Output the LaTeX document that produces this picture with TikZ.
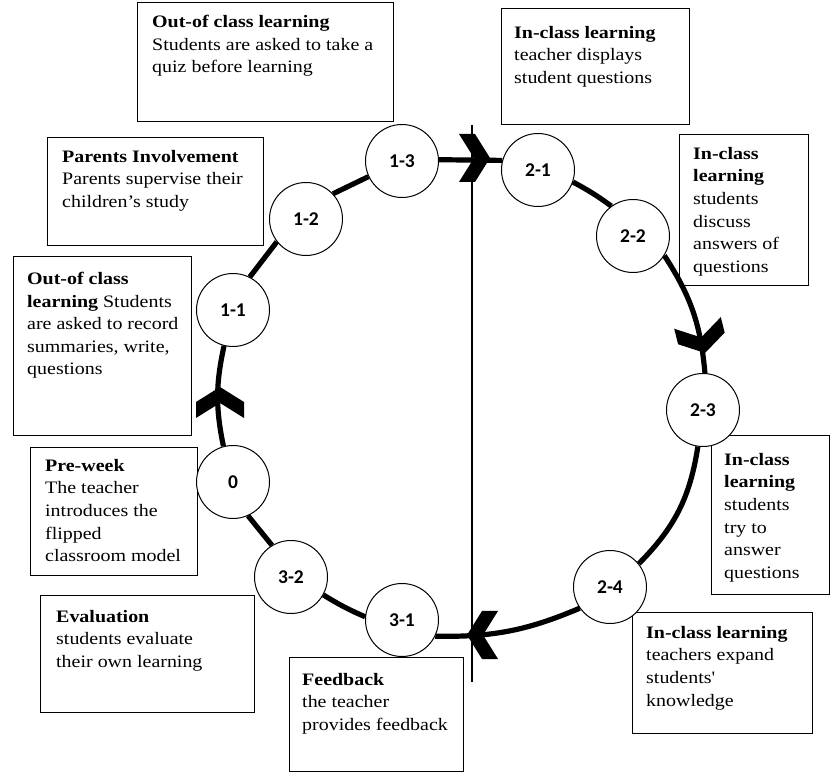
\documentclass[tikz,border=0pt]{standalone}
\usepackage{fontspec}
\setmainfont{Liberation Serif}[FakeStretch=1.14]
\newfontfamily\numfont{Carlito}
\begin{document}
\begin{tikzpicture}[x=1pt,y=1pt,
  stage/.style={circle,draw,line width=1pt,fill=white,minimum size=73pt,inner sep=0pt,
    font=\numfont\fontsize{19.5}{19.5}\selectfont\bfseries},
  ring/.style={line width=5.2pt},
  divider/.style={line width=1.8pt},
  box/.style={draw,line width=1.2pt,anchor=north west,inner sep=0pt},
  txt/.style={anchor=north west,inner sep=0pt,align=left,
    font=\fontsize{17.5}{22.6}\selectfont},
  chevron/.pic={\fill (0,0) -- (-15,24) -- (-31,24) -- (-16,0) -- (-31,-24) -- (-15,-24) -- cycle;}
]
\useasboundingbox (0,0) rectangle (835,774);

% stage positions on the cycle
\coordinate (p0)  at (233,292);
\coordinate (p11) at (233,464);
\coordinate (p12) at (306,555);
\coordinate (p13) at (402,613);
\coordinate (p21) at (538,604);
\coordinate (p22) at (633,538);
\coordinate (p23) at (703,364);
\coordinate (p24) at (610,187);
\coordinate (p31) at (402,154);
\coordinate (p32) at (291,197);

% text boxes
\node[box,minimum width=256pt,minimum height=119pt] (b1) at (137,772) {};
\node[txt] (t1) at ([xshift=15pt,yshift=-13pt]b1.north west)
  {\textbf{Out-of class learning}\\Students are asked to take a\\quiz before learning};
\node[box,minimum width=188pt,minimum height=116pt] (b2) at (501,766) {};
\node[txt] (t2) at ([xshift=13pt,yshift=-18pt]b2.north west)
  {\textbf{In-class learning}\\teacher displays\\student questions};
\node[box,minimum width=216pt,minimum height=108pt] (b3) at (47,637) {};
\node[txt] (t3) at ([xshift=15pt,yshift=-13pt]b3.north west)
  {\textbf{Parents Involvement}\\Parents supervise their\\children’s study};
\node[box,minimum width=178pt,minimum height=179pt] (b4) at (13,518) {};
\node[txt] (t4) at ([xshift=14pt,yshift=-16pt]b4.north west)
  {\textbf{Out-of class}\\\textbf{learning} Students\\are asked to record\\summaries, write,\\questions};
\node[box,minimum width=129pt,minimum height=151pt] (b5) at (679,640) {};
\node[txt] (t5) at ([xshift=14pt,yshift=-13pt]b5.north west)
  {\textbf{In-class}\\\textbf{learning}\\students\\discuss\\answers of\\questions};
\node[box,minimum width=167pt,minimum height=128pt] (b6) at (30,327) {};
\node[txt] (t6) at ([xshift=15pt,yshift=-12pt]b6.north west)
  {\textbf{Pre-week}\\The teacher\\introduces the\\flipped\\classroom model};
\node[box,minimum width=118pt,minimum height=159pt] (b7) at (711,339) {};
\node[txt] (t7) at ([xshift=13pt,yshift=-18pt]b7.north west)
  {\textbf{In-class}\\\textbf{learning}\\students\\try to\\answer\\questions};
\node[box,minimum width=214pt,minimum height=117pt] (b8) at (40,179) {};
\node[txt] (t8) at ([xshift=16pt,yshift=-15pt]b8.north west)
  {\textbf{Evaluation}\\students evaluate\\their own learning};
\node[box,minimum width=174pt,minimum height=114pt] (b9) at (289,117) {};
\node[txt] (t9) at ([xshift=13pt,yshift=-16pt]b9.north west)
  {\textbf{Feedback}\\the teacher\\provides feedback};
\node[box,minimum width=180pt,minimum height=121pt] (b10) at (632,162) {};
\node[txt] (t10) at ([xshift=14pt,yshift=-14pt]b10.north west)
  {\textbf{In-class learning}\\teachers expand\\students\textquotesingle\\knowledge};

% stage circles
\node[stage] (s0)  at (p0)  {0};
\node[stage] (s11) at (p11) {1-1};
\node[stage] (s12) at (p12) {1-2};
\node[stage] (s13) at (p13) {1-3};
\node[stage] (s21) at (p21) {2-1};
\node[stage] (s22) at (p22) {2-2};
\node[stage] (s23) at (p23) {2-3};
\node[stage] (s24) at (p24) {2-4};
\node[stage] (s31) at (p31) {3-1};
\node[stage] (s32) at (p32) {3-2};

% the cycle, clockwise
\draw[ring] (s0.105)  to[bend left=12] (s11.-104);
\draw[ring] (s11.63)  -- (s12.218);
\draw[ring] (s12.43)  -- (s13.205);
\draw[ring] (s13.2)   -- (s21.165);
\draw[ring] (s21.-19) to[bend left=4] (s22.126);
\draw[ring] (s22.-32) to[bend left=14] (s23.87);
\draw[ring] (s23.-98) to[bend left=18] (s24.39);
\draw[ring] (s24.215) to[bend left=12] (s31.-26);
\draw[ring] (s31.175) to[bend left=4] (s32.-29);
\draw[ring] (s32.121) -- (s0.-66);

% divider between out-of-class and in-class phases
\coordinate (vtop) at (472,649);
\coordinate (vbot) at (472,92);
\draw[divider] (vtop) -- (vbot);

% direction marks
\pic[rotate=0]   at (490,616) {chevron};
\pic[rotate=-76] at (705,421) {chevron};
\pic[rotate=180] at (467,139) {chevron};
\pic[rotate=90]  at (220,387) {chevron};
\end{tikzpicture}
\end{document}
